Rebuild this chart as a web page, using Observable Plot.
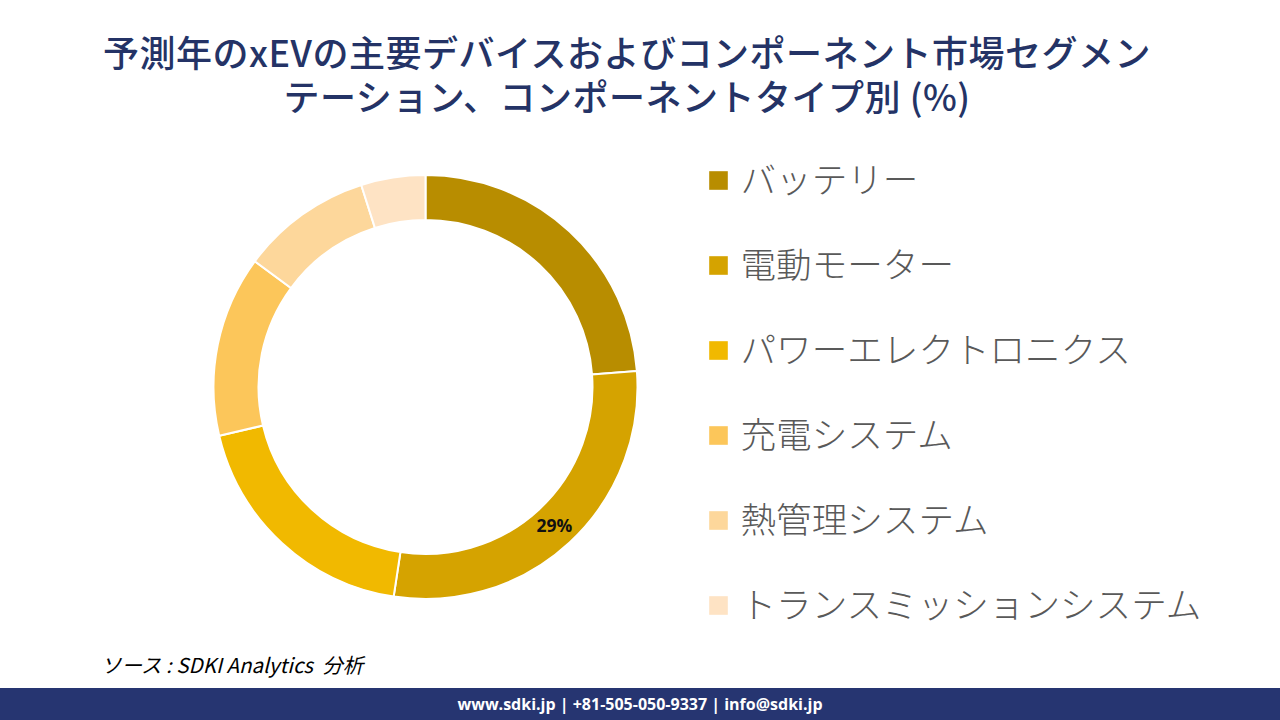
<!DOCTYPE html>
<html>
<head>
<meta charset="utf-8">
<script src="https://cdn.jsdelivr.net/npm/d3@7"></script>
<script src="https://cdn.jsdelivr.net/npm/@observablehq/plot@0.6"></script>
<style>
  html, body { margin: 0; padding: 0; background: #fff; }
  body { width: 1280px; height: 720px; position: relative; overflow: hidden; font-family: "Noto Sans CJK JP", "Noto Sans", sans-serif; }
  .title { position: absolute; left: 0; width: 1254px; text-align: center; color: #243366; font-size: 36px; font-weight: 500; letter-spacing: 0.5px; line-height: 40px; font-family: "Noto Sans CJK JP", serif; white-space: nowrap; }
  #t1 { top: 31px; }
  #t2 { top: 75px; }
  #chart { position: absolute; top: 130px; left: 0; }
  #caption { position: absolute; top: 649px; left: 101px; font-size: 20.5px; font-style: italic; color: #000; font-family: "Noto Sans CJK JP", sans-serif; white-space: nowrap; }
  #footer { position: absolute; top: 688px; left: 0; width: 1280px; height: 32px; background: #263571; color: #fff; text-align: center; font: bold 16px/32px "Open Sans", "Noto Sans", sans-serif; }
</style>
</head>
<body>
<div class="title" id="t1">予測年のxEVの主要デバイスおよびコンポーネント市場セグメン</div>
<div class="title" id="t2">テーション、コンポーネントタイプ別 (%)</div>
<div id="chart"></div>
<div id="caption">ソース : SDKI Analytics &nbsp;分析</div>
<div id="footer">www.sdki.jp | +81-505-050-9337 | info@sdki.jp</div>
<script>
const categories = ["バッテリー", "電動モーター", "パワーエレクトロニクス", "充電システム", "熱管理システム", "トランスミッションシステム"];
const shares = [23.8, 28.6, 18.9, 13.8, 10.0, 4.9];
const colors = ["#B88D00", "#D5A300", "#F1B900", "#FCC65A", "#FDD79B", "#FEE3C4"];

const data = categories.map((name, i) => ({name, value: shares[i]}));

const W = 1280, H = 520;
const cx = 425.5, cy = 257, rOuter = 212, rInner = 167;

const pie = d3.pie().sort(null).value(d => d.value)(data);
const arc = d3.arc().innerRadius(rInner).outerRadius(rOuter);
const maxVal = d3.max(shares);

function donut(index, scales) {
  const g = d3.create("svg:g").attr("transform", `translate(${cx},${cy})`);
  const color = scales.color || d3.scaleOrdinal(categories, colors);
  g.selectAll("path")
    .data(pie)
    .join("path")
    .attr("d", arc)
    .attr("fill", d => color(d.data.name))
    .attr("stroke", "#fff")
    .attr("stroke-width", 2);
  g.selectAll("text")
    .data(pie.filter(p => p.data.value === maxVal))
    .join("text")
    .attr("transform", d => `translate(${arc.centroid(d)})`)
    .attr("text-anchor", "middle")
    .attr("dy", "0.35em")
    .attr("font-size", 17.5)
    .attr("font-weight", "bold")
    .attr("font-family", "Open Sans, Noto Sans, sans-serif")
    .attr("fill", "#111")
    .text(d => Math.round(d.data.value) + "%");
  return g.node();
}

const chart = Plot.plot({
  width: W,
  height: H,
  margin: 0,
  x: {type: "identity", axis: null},
  y: {type: "point", domain: categories, range: [50, 475], padding: 0, axis: null},
  color: {type: "ordinal", domain: categories, range: colors},
  marks: [
    donut,
    Plot.dot(data, {x: () => 718, y: "name", symbol: "square", r: 10.5, fill: "name", stroke: null}),
    Plot.text(data, {x: () => 740, y: "name", text: "name", textAnchor: "start", fontSize: 35.6, fill: "#595959", fontWeight: 300, fontFamily: "Noto Sans CJK JP", dy: 1})
  ]
});
document.getElementById("chart").appendChild(chart);
</script>
</body>
</html>
